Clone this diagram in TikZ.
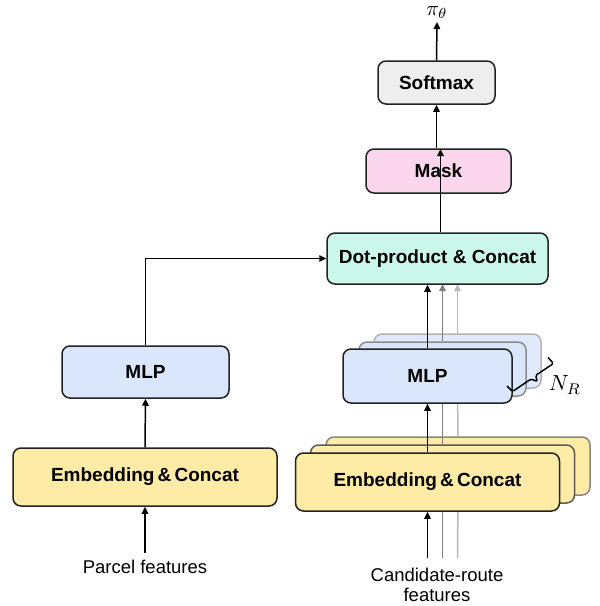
\documentclass[tikz,border=0pt]{standalone}
\usepackage{graphicx}
\usepackage{fontspec}
\setmainfont{Liberation Sans}
\usetikzlibrary{arrows.meta}
\definecolor{embfill}{HTML}{FDEBA6}
\definecolor{mlpfill}{HTML}{DAE6FB}
\definecolor{dotfill}{HTML}{CCF8EC}
\definecolor{maskfill}{HTML}{FCD6EC}
\definecolor{softfill}{HTML}{EEEEEE}
\definecolor{edge}{HTML}{222222}
\tikzset{
  blk/.style={draw=edge, line width=1.5pt, rounded corners=8pt, inner sep=0pt,
    font=\fontsize{19}{22}\selectfont\bfseries, align=center},
  conn/.style={draw=black, line width=1.5pt, -{Triangle[length=7pt,width=6.5pt]}},
  gline/.style={line width=1.5pt},
  lbl/.style={font=\fontsize{18.5}{21}\selectfont, align=center, inner sep=0pt}
}
\begin{document}
\begin{tikzpicture}[x=1pt,y=-1pt]
\useasboundingbox (0,0) rectangle (600,606);

% ---- back copies (layer 2) ----
\node[blk, draw=edge!55, fill=embfill, minimum width=264pt, minimum height=58pt] (embB2) at (458,466) {};
\node[blk, draw=gray!60, fill=mlpfill!85, minimum width=167pt, minimum height=54pt] (mlpB2) at (457.5,361) {};
\coordinate (crB2) at (457.5,558);
\draw[gline, draw=gray!55] (crB2) -- (embB2.south);
\draw[gline, draw=gray!55] (embB2.north) -- (mlpB2.south);
\draw[gline, draw=gray!55, -{Triangle[length=7pt,width=6.5pt]}] (mlpB2.north) -- (457.5,284);

% ---- back copies (layer 1) ----
\node[blk, draw=edge!75, fill=embfill, minimum width=264pt, minimum height=58pt] (embB1) at (442.5,474) {};
\node[blk, draw=gray!90, fill=mlpfill, minimum width=167pt, minimum height=54pt] (mlpB1) at (442.5,369) {};
\coordinate (crB1) at (442.5,558);
\draw[gline, draw=gray] (crB1) -- (embB1.south);
\draw[gline, draw=gray] (embB1.north) -- (mlpB1.south);
\draw[gline, draw=gray, -{Triangle[length=7pt,width=6.5pt]}] (mlpB1.north) -- (442.5,284);

% ---- main blocks ----
\node[blk, fill=embfill, minimum width=264pt, minimum height=58pt] (embL) at (145,477) {Embedding\,\&\,Concat};
\node[blk, fill=mlpfill, minimum width=167pt, minimum height=52pt] (mlpL) at (145.5,372) {MLP};
\node[blk, fill=embfill, minimum width=264pt, minimum height=58pt] (embR) at (427.5,482) {Embedding\,\&\,Concat};
\node[blk, fill=mlpfill, minimum width=169pt, minimum height=54pt] (mlpR) at (427.5,376) {MLP};
\node[blk, fill=dotfill, minimum width=221pt, minimum height=51pt] (dot) at (437.5,258.5) {Dot-product \& Concat};
\node[blk, fill=maskfill, minimum width=145pt, minimum height=44pt] (mask) at (438.5,171) {Mask};
\node[blk, fill=softfill, minimum width=117pt, minimum height=43pt] (soft) at (436.5,82.5) {Softmax};

% ---- labels ----
\node[lbl] (parcel) at (145,567) {Parcel features};
\node[lbl] (cand) at (437,585) {Candidate-route\\[-1pt]features};
\node[inner sep=0pt] (pi) at (437,12.5) {\scalebox{2.1}{$\pi_\theta$}};
\node[inner sep=0pt] (nr) at (565,385) {\scalebox{2.2}{$N_R$}};

% ---- connectors ----
\coordinate (parcIn) at (145,553);
\coordinate (candIn) at (427.5,558);
\draw[conn] (parcIn) -- (embL.south);
\draw[conn] (embL.north) -- (mlpL.south);
\draw[conn] (mlpL.north) |- (dot.west);
\draw[conn] (candIn) -- (embR.south);
\draw[conn] (embR.north) -- (mlpR.south);
\draw[conn] (mlpR.north) -- (mlpR.north |- dot.south);
\draw[conn] (dot.north -| 440.5,0) -- (440.5,149);
\draw[conn] (mask.north -| soft.south) -- (soft.south);
\draw[conn] (soft.north) -- (437,22);

% ---- brace (angular) ----
\draw[line width=1.5pt, line join=round, rounded corners=1.5pt]
  (507,386) -- (512.5,391.5) -- (531,379) -- (537.5,381.5) -- (535.5,375.5)
  -- (553.5,363.5) -- (548,357.5);
\end{tikzpicture}
\end{document}
